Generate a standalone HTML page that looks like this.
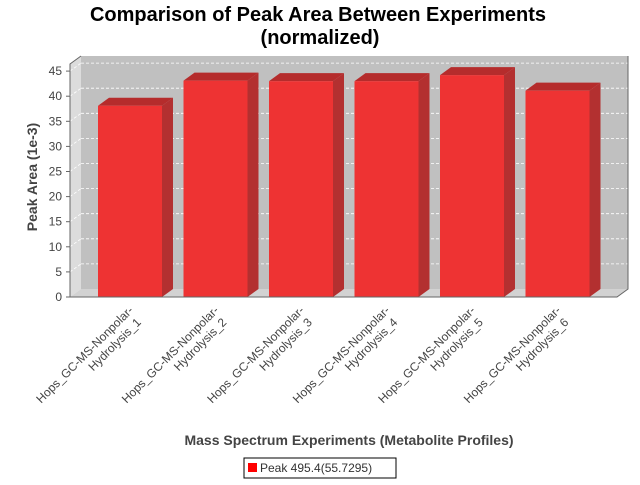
<!DOCTYPE html>
<html><head><meta charset="utf-8"><style>
body{margin:0;background:#fff;width:640px;height:480px;overflow:hidden;font-family:"Liberation Sans","DejaVu Sans",sans-serif}
</style></head><body>
<svg id="chart" width="640" height="480" xmlns="http://www.w3.org/2000/svg">
<text x="318" y="21" text-anchor="middle" font-size="20" font-weight="bold" fill="#000">Comparison of Peak Area Between Experiments</text>
<text x="320" y="44" text-anchor="middle" font-size="20" font-weight="bold" fill="#000">(normalized)</text>
<g id="plot"></g>
<text transform="translate(37,177) rotate(-90)" text-anchor="middle" font-size="14" font-weight="bold" fill="#444">Peak Area (1e-3)</text>
<text x="349" y="445" text-anchor="middle" font-size="14" font-weight="bold" fill="#444">Mass Spectrum Experiments (Metabolite Profiles)</text>
<g>
<rect x="244" y="458" width="152" height="20" fill="#fff" stroke="#000" stroke-width="1"/>
<rect x="248" y="463" width="9" height="9" fill="#ff0000"/>
<text x="260" y="472" font-size="12" fill="#333">Peak 495.4(55.7295)</text>
</g>
</svg>
<script>
const categories=["Hops_GC-MS-Nonpolar-|Hydrolysis_1","Hops_GC-MS-Nonpolar-|Hydrolysis_2","Hops_GC-MS-Nonpolar-|Hydrolysis_3","Hops_GC-MS-Nonpolar-|Hydrolysis_4","Hops_GC-MS-Nonpolar-|Hydrolysis_5","Hops_GC-MS-Nonpolar-|Hydrolysis_6"];
const values=[38.1,43.1,43.0,43.0,44.2,41.1];
const yTicks=[0,5,10,15,20,25,30,35,40,45];
const NS="http://www.w3.org/2000/svg";
const g=document.getElementById('plot');
const X0=70,X1=617,Y0=297,YTOP=64,DX=11,DY=-8,PXU=5.02;
const y=v=>Y0-v*PXU;
const pitch=85.5,bw=64,firstX=98;
const xb=i=>firstX+i*pitch;
function el(t,a){const e=document.createElementNS(NS,t);for(const k in a)e.setAttribute(k,a[k]);g.appendChild(e);return e;}
// walls
let w=el('polygon',{points:`${X0+DX},${YTOP+DY} ${X1+DX},${YTOP+DY} ${X1+DX},${Y0+DY} ${X0+DX},${Y0+DY}`,fill:'#c0c0c0'});

w=el('polygon',{points:`${X0},${YTOP} ${X0+DX},${YTOP+DY} ${X0+DX},${Y0+DY} ${X0},${Y0}`,fill:'#dcdcdc'});

w=el('polygon',{points:`${X0},${Y0} ${X0+DX},${Y0+DY} ${X1+DX},${Y0+DY} ${X1},${Y0}`,fill:'#d2d2d2'});

yTicks.forEach(t=>{
 if(t>0){const l=el('line',{x1:X0+DX,x2:X1+DX,y1:y(t)+DY,y2:y(t)+DY,stroke:'#fff','stroke-dasharray':'3,2','stroke-width':0.8});
 
 const d=el('line',{x1:X0,x2:X0+DX,y1:y(t),y2:y(t)+DY,stroke:'#fff','stroke-dasharray':'3,2','stroke-width':0.8});
 }
 const tk=el('line',{x1:X0-4,x2:X0,y1:y(t),y2:y(t),stroke:'#666'});
 
 const tx=el('text',{x:X0-8,y:y(t)+4,'text-anchor':'end','font-size':12,fill:'#444'});tx.textContent=t;
 
});
values.forEach((v,i)=>{
 const x=xb(i),yt=y(v);
 const s=el('polygon',{points:`${x+bw},${yt} ${x+bw+DX},${yt+DY} ${x+bw+DX},${Y0+DY} ${x+bw},${Y0}`,fill:'#b33030'});
 
 const tp=el('polygon',{points:`${x},${yt} ${x+DX},${yt+DY} ${x+bw+DX},${yt+DY} ${x+bw},${yt}`,fill:'#b52c2c'});
 
 const r=el('rect',{x:x,y:yt,width:bw,height:Y0-yt,fill:'#ee3333'});
 
 const parts=categories[i].split('|');
 const cx=x+bw/2+4,cy=Y0+14;
 const t=el('text',{transform:`translate(${cx},${cy}) rotate(-45)`,'text-anchor':'end','font-size':12,fill:'#444'});
 
 const a=document.createElementNS(NS,'tspan');a.setAttribute('x',0);a.setAttribute('y',0);a.textContent=parts[0];t.appendChild(a);
 const b=document.createElementNS(NS,'tspan');b.setAttribute('x',-3);b.setAttribute('y',0);b.setAttribute('dx',0);b.setAttribute('dy',14);b.textContent=parts[1];t.appendChild(b);
});
// axis lines
let ax=el('polyline',{points:`${X0+DX},${YTOP+DY} ${X0},${YTOP} ${X0},${Y0} ${X1},${Y0} ${X1+DX},${Y0+DY} ${X1+DX},${YTOP+DY}`,fill:'none',stroke:'#666'});

</script>
</body></html>
